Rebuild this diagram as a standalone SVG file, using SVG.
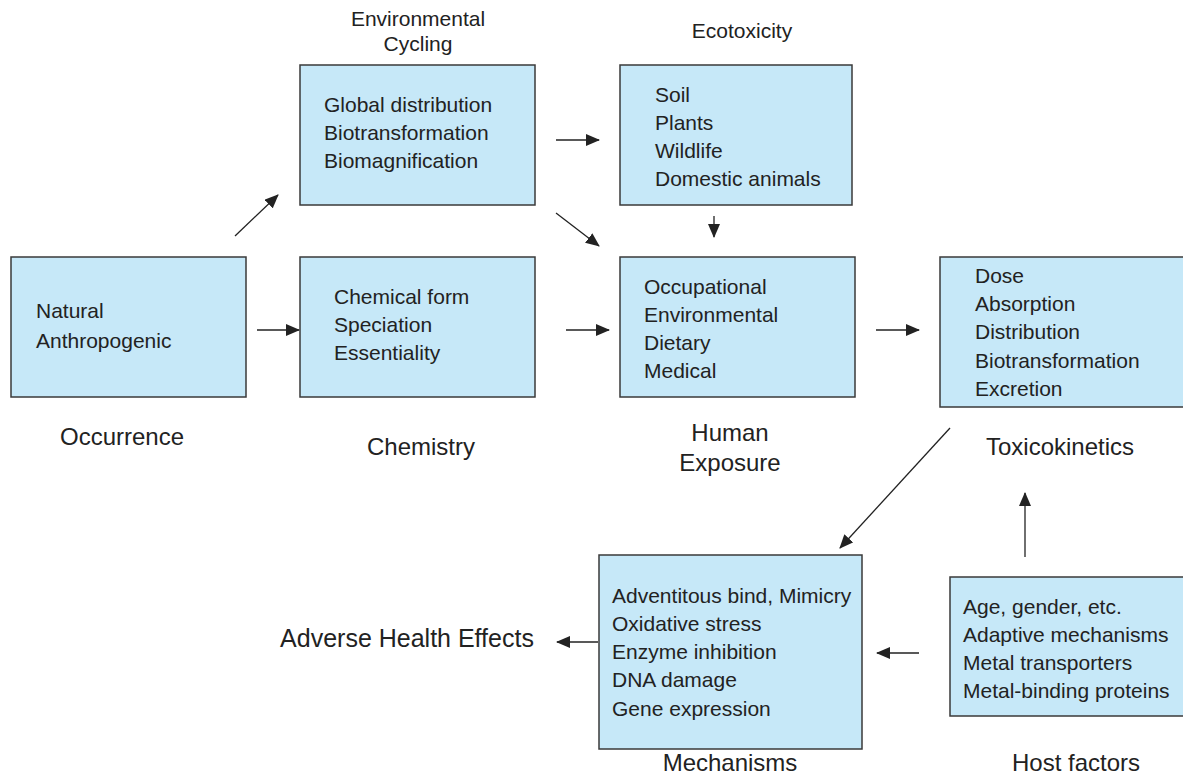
<svg xmlns="http://www.w3.org/2000/svg" width="1183" height="778" viewBox="0 0 1183 778">
  <style>
    .box { fill: #c6e8f8; stroke: #3a3a3a; stroke-width: 1.5; }
    .t { font-family: "Liberation Sans", Arial, sans-serif; font-size: 21px; fill: #222; }
    .lbl { font-family: "Liberation Sans", Arial, sans-serif; font-size: 24px; fill: #222; text-anchor: middle; }
    .sm { font-family: "Liberation Sans", Arial, sans-serif; font-size: 21px; fill: #222; text-anchor: middle; }
    .conn { stroke: #222; stroke-width: 1.3; fill: none; marker-end: url(#ah); }
  </style>
  <defs>
    <marker id="ah" markerUnits="userSpaceOnUse" markerWidth="14" markerHeight="12" refX="13" refY="6" orient="auto">
      <path d="M0,0 L14,6 L0,12 Z" fill="#222"/>
    </marker>
  </defs>
  <rect width="1183" height="778" fill="#fff"/>

  <g id="occurrence">
    <rect class="box" x="11" y="257" width="235" height="140"/>
    <text class="t" x="36" y="318">Natural</text>
    <text class="t" x="36" y="348">Anthropogenic</text>
    <text class="lbl" x="122" y="445">Occurrence</text>
  </g>

  <g id="cycling">
    <text class="sm" x="418" y="26">Environmental</text>
    <text class="sm" x="418" y="51">Cycling</text>
    <rect class="box" x="300" y="65" width="235" height="140"/>
    <text class="t" x="324" y="112">Global distribution</text>
    <text class="t" x="324" y="140">Biotransformation</text>
    <text class="t" x="324" y="168">Biomagnification</text>
  </g>

  <g id="ecotoxicity">
    <text class="sm" x="742" y="38">Ecotoxicity</text>
    <rect class="box" x="620" y="65" width="232" height="140"/>
    <text class="t" x="655" y="102">Soil</text>
    <text class="t" x="655" y="130">Plants</text>
    <text class="t" x="655" y="158">Wildlife</text>
    <text class="t" x="655" y="186">Domestic animals</text>
  </g>

  <g id="chemistry">
    <rect class="box" x="300" y="257" width="235" height="140"/>
    <text class="t" x="334" y="304">Chemical form</text>
    <text class="t" x="334" y="332">Speciation</text>
    <text class="t" x="334" y="360">Essentiality</text>
    <text class="lbl" x="421" y="455">Chemistry</text>
  </g>

  <g id="exposure">
    <rect class="box" x="620" y="257" width="235" height="140"/>
    <text class="t" x="644" y="294">Occupational</text>
    <text class="t" x="644" y="322">Environmental</text>
    <text class="t" x="644" y="350">Dietary</text>
    <text class="t" x="644" y="378">Medical</text>
    <text class="lbl" x="730" y="441">Human</text>
    <text class="lbl" x="730" y="471">Exposure</text>
  </g>

  <g id="toxicokinetics">
    <rect class="box" x="940" y="257" width="245" height="150"/>
    <text class="t" x="975" y="283">Dose</text>
    <text class="t" x="975" y="311">Absorption</text>
    <text class="t" x="975" y="339">Distribution</text>
    <text class="t" x="975" y="368">Biotransformation</text>
    <text class="t" x="975" y="396">Excretion</text>
    <text class="lbl" x="1060" y="455">Toxicokinetics</text>
  </g>

  <g id="mechanisms">
    <rect class="box" x="599" y="555" width="263" height="194"/>
    <text class="t" x="612" y="603">Adventitous bind, Mimicry</text>
    <text class="t" x="612" y="631">Oxidative stress</text>
    <text class="t" x="612" y="659">Enzyme inhibition</text>
    <text class="t" x="612" y="687">DNA damage</text>
    <text class="t" x="612" y="716">Gene expression</text>
    <text class="lbl" x="730" y="771">Mechanisms</text>
  </g>

  <g id="host">
    <rect class="box" x="950" y="577" width="235" height="139"/>
    <text class="t" x="963" y="614">Age, gender, etc.</text>
    <text class="t" x="963" y="642">Adaptive mechanisms</text>
    <text class="t" x="963" y="670">Metal transporters</text>
    <text class="t" x="963" y="698">Metal-binding proteins</text>
    <text class="lbl" x="1076" y="771">Host factors</text>
  </g>

  <g id="effects">
    <text class="lbl" x="407" y="647" style="font-size:25px">Adverse Health Effects</text>
  </g>

  <g id="connectors">
    <line class="conn" x1="235" y1="236" x2="278" y2="195"/>
    <line class="conn" x1="257" y1="330" x2="299" y2="330"/>
    <line class="conn" x1="556" y1="140" x2="599" y2="140"/>
    <line class="conn" x1="556" y1="213" x2="599" y2="246"/>
    <line class="conn" x1="714" y1="216" x2="714" y2="237"/>
    <line class="conn" x1="566" y1="330" x2="609" y2="330"/>
    <line class="conn" x1="876" y1="330" x2="919" y2="330"/>
    <line class="conn" x1="950" y1="428" x2="840" y2="548"/>
    <line class="conn" x1="1025" y1="557" x2="1025" y2="493"/>
    <line class="conn" x1="919" y1="653" x2="877" y2="653"/>
    <line class="conn" x1="598" y1="642" x2="557" y2="642"/>
  </g>
</svg>
